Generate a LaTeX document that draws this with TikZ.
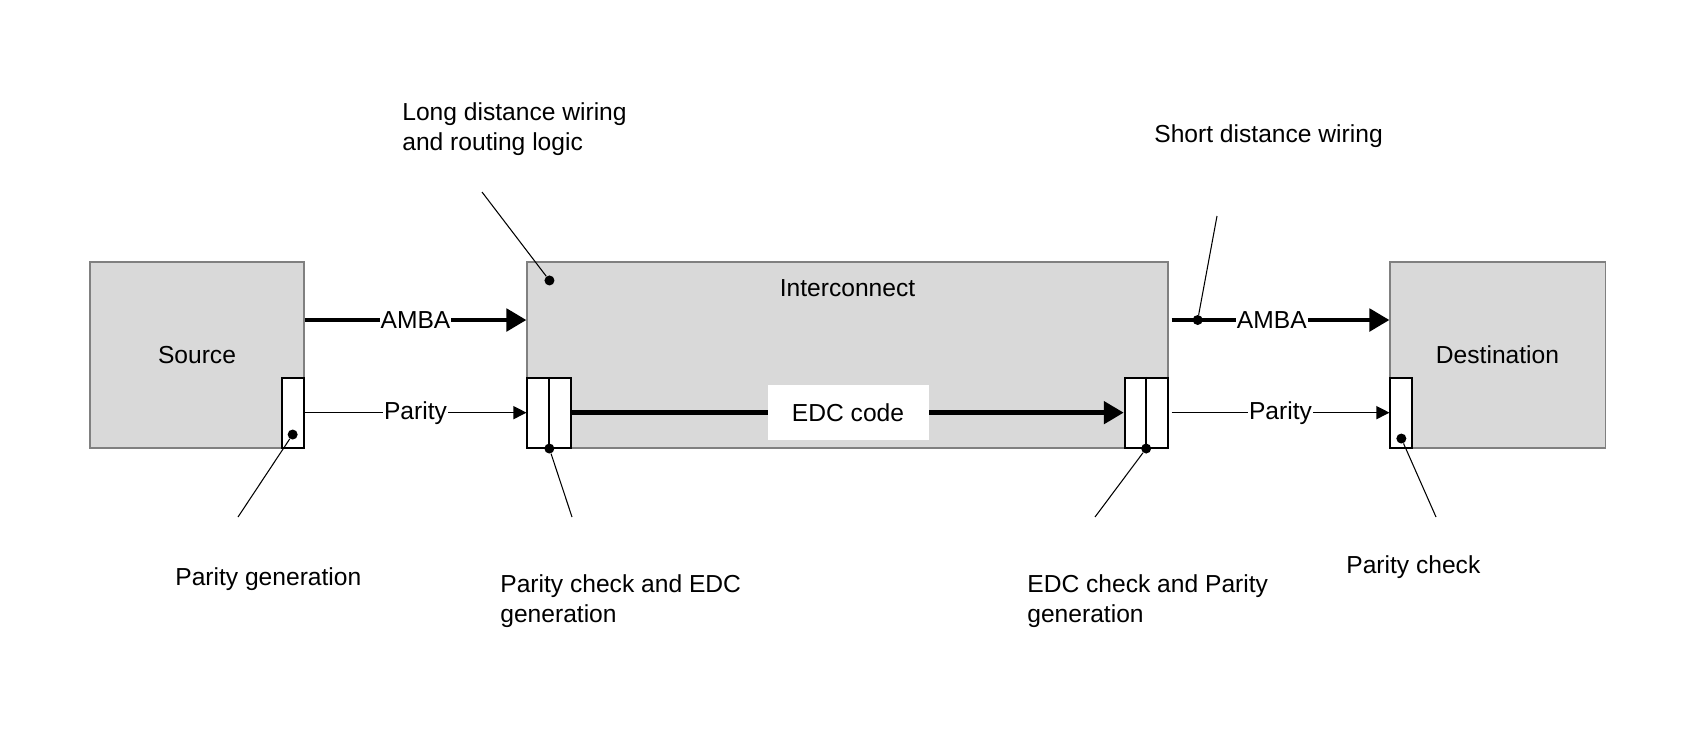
\documentclass[tikz,border=0pt]{standalone}
\usepackage{fontspec}
\setmainfont{Liberation Sans}
\usetikzlibrary{arrows.meta}
\definecolor{grigio}{HTML}{D9D9D9}
\definecolor{bordo}{HTML}{808080}

\begin{document}
\begin{tikzpicture}[
        font=\fontsize{14}{17.5}\selectfont,
        blocco/.style={draw=bordo, fill=grigio, line width=0.6pt, minimum width=#1, minimum height=3.72cm, inner sep=0pt},
        cella/.style={draw=black, fill=white, line width=1pt, minimum width=#1, minimum height=1.4cm, inner sep=0pt},
        bus/.style={line width=2.8pt, -{Triangle[length=0.4cm, width=0.44cm]}},
        filo/.style={line width=0.7pt, -{Triangle[length=0.26cm, width=0.26cm]}},
        guida/.style={line width=0.6pt},
        etic/.style={fill=white, inner sep=0.5pt},
        pallino/.style={circle, fill=black, minimum size=0.2cm, inner sep=0pt},
        testo/.style={inner sep=0pt, align=left}
    ]
        \useasboundingbox (0,0) rectangle (34.16,-14.72);

        % Blocchi
        \node[blocco=4.28cm] (src) at (3.94,-7.1) {Source};
        \node[blocco=12.82cm] (icn) at (16.95,-7.1) {};
        \node[blocco=4.3cm] (dst) at (29.95,-7.1) {Destination};
        \node[anchor=base] (ticn) at ([yshift=-0.7cm]icn.north) {Interconnect};

        % Celle di parita' / EDC
        \node[cella=0.44cm, anchor=south east] (spar) at (src.south east) {};
        \node[cella=0.88cm, anchor=south west] (lpar) at (icn.south west) {};
        \draw[line width=1pt] (lpar.north) -- (lpar.south);
        \node[cella=0.86cm, anchor=south east] (rpar) at (icn.south east) {};
        \draw[line width=1pt] (rpar.north) -- (rpar.south);
        \node[cella=0.44cm, anchor=south west] (dpar) at (dst.south west) {};

        % Collegamenti
        \draw[bus] ([yshift=0.7cm]src.east) -- node[etic] {AMBA} ([yshift=0.7cm]icn.west);
        \draw[filo] (spar.east) -- node[etic] {Parity} (lpar.west);
        \draw[bus] (lpar.east) -- node[etic, minimum width=3.22cm, minimum height=1.1cm] (edc) {EDC code} (rpar.west);
        \draw[bus] ([xshift=0.06cm, yshift=0.7cm]icn.east) -- coordinate[pos=0.12] (sdot) node[etic, pos=0.46] {AMBA} ([yshift=0.7cm]dst.west);
        \draw[filo] ([xshift=0.06cm]rpar.east) -- node[etic] {Parity} (dpar.west);

        % Pallini
        \node[pallino] (d1) at ([xshift=0.46cm, yshift=-0.38cm]icn.north west) {};
        \node[pallino] (d2) at (sdot) {};
        \node[pallino] (d3) at ([yshift=0.28cm]spar.south) {};
        \node[pallino] (d4) at (lpar.south) {};
        \node[pallino] (d5) at (rpar.south) {};
        \node[pallino] (d6) at ([yshift=0.2cm]dpar.south) {};

        % Didascalie
        \node[testo, anchor=north west] (tlong) at (8.04,-2.04) {Long distance wiring\\and routing logic};
        \node[testo, anchor=base west] (tshort) at (23.08,-2.84) {Short distance wiring};
        \node[testo, anchor=base west] (tpg) at (3.5,-11.7) {Parity generation};
        \node[testo, anchor=north west] (tpce) at (10.0,-11.48) {Parity check and EDC\\generation};
        \node[testo, anchor=north west] (tepg) at (20.54,-11.48) {EDC check and Parity\\generation};
        \node[testo, anchor=base west] (tpc) at (26.92,-11.46) {Parity check};

        % Linee guida
        \coordinate (g1) at (9.64,-3.84);
        \coordinate (g2) at (24.34,-4.32);
        \coordinate (g3) at (4.76,-10.34);
        \coordinate (g4) at (11.44,-10.34);
        \coordinate (g5) at (21.9,-10.34);
        \coordinate (g6) at (28.72,-10.34);
        \draw[guida] (g1) -- (d1);
        \draw[guida] (g2) -- (d2);
        \draw[guida] (g3) -- (d3);
        \draw[guida] (g4) -- (d4);
        \draw[guida] (g5) -- (d5);
        \draw[guida] (g6) -- (d6);

    \end{tikzpicture}
\end{document}
